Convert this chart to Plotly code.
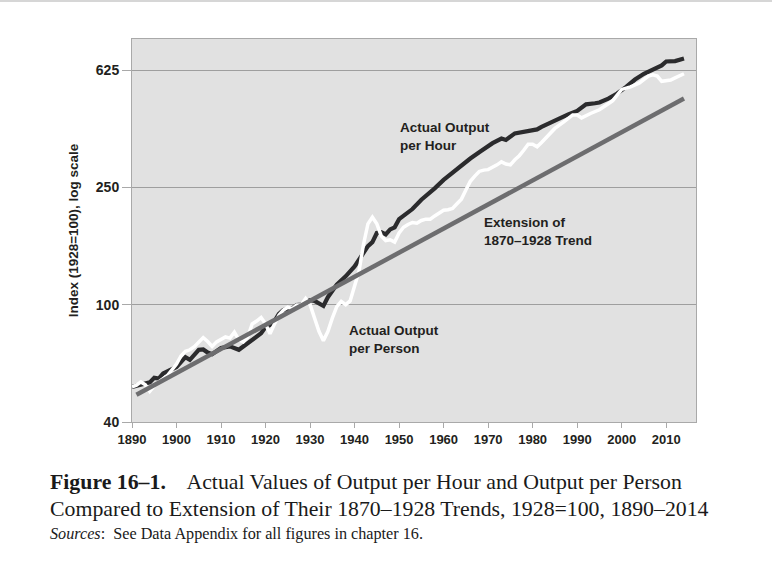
import plotly.graph_objects as go

# ---- data ----
hour_years = [1890, 1892, 1894, 1895, 1896, 1897, 1899, 1900, 1902, 1903, 1905, 1906, 1907, 1908,
              1910, 1912, 1914, 1915, 1917, 1918, 1919, 1920, 1921, 1922, 1923, 1924, 1926, 1927,
              1928, 1929, 1930, 1931, 1932, 1933, 1934, 1935, 1936, 1938, 1940, 1941, 1942, 1943,
              1944, 1945, 1946, 1947, 1948, 1949, 1950, 1951, 1953, 1955, 1957, 1958, 1960, 1962,
              1963, 1965, 1966, 1968, 1970, 1971, 1973, 1974, 1976, 1978, 1980, 1981, 1982, 1984,
              1986, 1988, 1990, 1992, 1994, 1995, 1997, 1999, 2001, 2003, 2005, 2007, 2009, 2010,
              2012, 2014]
hour_values = [52.6, 53.5, 54.5, 56.5, 56.1, 58.4, 60.2, 61.5, 66.4, 65.0, 70.3, 70.5, 68.8, 67.9,
               71.3, 72.2, 70.3, 72.2, 76.1, 78.0, 80, 84.0, 85.4, 88, 93, 96, 97.1, 99.7,
               100, 102, 103.6, 103, 101, 99, 106, 112, 117, 124.8, 134.8, 142, 150, 158,
               163, 175, 176, 173, 180, 183, 195, 200, 211, 227, 240, 248, 265, 280,
               290, 305, 313, 329, 345, 353, 366, 362, 381, 386, 391, 393, 401, 415,
               430, 442, 454, 478, 482, 485, 500, 520, 548, 580, 607, 626, 648, 668,
               670, 684]

person_years = [1890, 1891, 1892, 1893, 1894, 1895, 1896, 1898, 1900, 1901, 1902, 1903, 1904, 1905,
                1906, 1907, 1908, 1909, 1910, 1911, 1912, 1913, 1914, 1915, 1916, 1917, 1918, 1919,
                1920, 1921, 1922, 1923, 1924, 1925, 1926, 1927, 1928, 1929, 1930, 1931, 1932, 1933,
                1934, 1935, 1936, 1937, 1938, 1939, 1940, 1941, 1942, 1943, 1944, 1945, 1946, 1947,
                1948, 1949, 1950, 1951, 1952, 1953, 1954, 1955, 1956, 1957, 1958, 1959, 1960, 1961,
                1962, 1963, 1964, 1965, 1966, 1967, 1968, 1969, 1970, 1972, 1973, 1974, 1975, 1976,
                1977, 1978, 1979, 1980, 1981, 1982, 1984, 1985, 1987, 1989, 1990, 1991, 1993, 1995,
                1997, 1998, 2000, 2002, 2004, 2006, 2007, 2008, 2009, 2011, 2012, 2014]
person_values = [52.6, 53.3, 54.7, 53.5, 50.8, 53, 54.7, 57.6, 62.9, 67, 69.5, 70.3, 72, 74.8,
                 77.3, 75, 72.2, 74.8, 76.5, 77.7, 77, 80.7, 76, 74.8, 77.7, 86.0, 88, 90.4,
                 86, 79.7, 86, 92, 95.8, 98, 97, 99.7, 100, 105, 100, 90.4, 81.2, 75.5,
                 81, 90, 98.5, 102.6, 100, 103, 114.8, 130, 160, 188, 198, 188, 171, 165,
                 166, 163, 175, 183, 187, 190, 189, 193, 195, 195, 200, 205, 209, 210,
                 212, 220, 228, 245, 262, 273, 283, 286, 287, 298, 305, 300, 298, 310,
                 320, 334, 350, 350, 343, 355, 381, 396, 417, 440, 440, 430, 445, 458,
                 480, 492, 537, 548, 565, 596, 602, 596, 572, 578, 588, 607]

trend_years = [1891, 2014]
trend_values = [49.5, 500]

y_ticks = [40, 100, 250, 625]
x_ticks = list(range(1890, 2011, 10))

# ---- figure ----
FONT = "Liberation Sans, Arial, sans-serif"
SERIF = "Liberation Serif, Times New Roman, serif"
DARK = "#231f20"

fig = go.Figure()
fig.add_trace(go.Scatter(x=hour_years, y=hour_values, mode="lines",
                         line=dict(color="#2b2b2d", width=4.2), hoverinfo="skip"))
fig.add_trace(go.Scatter(x=person_years, y=person_values, mode="lines",
                         line=dict(color="#ffffff", width=3.5), hoverinfo="skip"))
fig.add_trace(go.Scatter(x=trend_years, y=trend_values, mode="lines",
                         line=dict(color="#6d6d6f", width=4.5), hoverinfo="skip"))

W, H = 772, 561
L, R, T, B = 132, 76, 39, 139
pw, ph = W - L - R, H - T - B


def px(x):
    return (x - L) / pw


def py(y):
    return (H - B - y) / ph


fig.update_layout(
    width=W, height=H,
    margin=dict(l=L, r=R, t=T, b=B),
    paper_bgcolor="white",
    plot_bgcolor="#e1e1e1",
    showlegend=False,
    font=dict(family=FONT, color=DARK, size=13),
    xaxis=dict(range=[1890, 2016.7], tickvals=x_ticks, showgrid=False, zeroline=False,
               showline=True, linecolor="#a9a9a9", linewidth=1, mirror=True,
               ticks="outside", ticklen=5, tickcolor="#a9a9a9",
               tickfont=dict(family=FONT, size=13, color=DARK, weight="bold")),
    yaxis=dict(type="log", range=[1.60206, 2.901], tickvals=y_ticks,
               ticktext=[str(v) for v in y_ticks],
               showgrid=True, gridcolor="#9e9e9e", gridwidth=1, zeroline=False,
               showline=True, linecolor="#a9a9a9", linewidth=1, mirror=True,
               ticks="outside", ticklen=9, tickcolor="#a9a9a9",
               tickfont=dict(family=FONT, size=14, color=DARK, weight="bold"),
               title=dict(text="Index (1928=100), log scale", standoff=14,
                          font=dict(family=FONT, size=13.5, color=DARK, weight="bold"))),
)

label_font = dict(family=FONT, size=13.5, color=DARK, weight="bold")
fig.add_annotation(xref="paper", yref="paper", x=px(398), y=py(136.5), xanchor="left",
                   yanchor="middle", align="left", showarrow=False,
                   text="Actual Output<br>per Hour", font=label_font)
fig.add_annotation(xref="paper", yref="paper", x=px(482), y=py(231.5), xanchor="left",
                   yanchor="middle", align="left", showarrow=False,
                   text="Extension of<br>1870–1928 Trend", font=label_font)
fig.add_annotation(xref="paper", yref="paper", x=px(347), y=py(339.5), xanchor="left",
                   yanchor="middle", align="left", showarrow=False,
                   text="Actual Output<br>per Person", font=label_font)

# caption
cap_font = dict(family=SERIF, size=21.8, color="#1a1a1a")
fig.add_annotation(xref="paper", yref="paper", x=px(48), y=py(482), xanchor="left",
                   yanchor="middle", align="left", showarrow=False, font=cap_font,
                   text="<b>Figure 16–1.</b>    Actual Values of Output per Hour and Output per Person")
fig.add_annotation(xref="paper", yref="paper", x=px(48), y=py(509), xanchor="left",
                   yanchor="middle", align="left", showarrow=False, font=cap_font,
                   text="Compared to Extension of Their 1870–1928 Trends, 1928=100, 1890–2014")
fig.add_annotation(xref="paper", yref="paper", x=px(48), y=py(534), xanchor="left",
                   yanchor="middle", align="left", showarrow=False,
                   font=dict(family=SERIF, size=16.2, color="#1a1a1a"),
                   text="<i>Sources</i>:  See Data Appendix for all figures in chapter 16.")

# thin rule at the very top of the page
fig.add_shape(type="line", xref="paper", yref="paper", x0=px(0), x1=px(W), y0=py(1), y1=py(1),
              line=dict(color="#c8c8c8", width=1.5))

fig.write_html("out.html", config={"displayModeBar": False},
               post_script="document.body.style.margin='0';")
